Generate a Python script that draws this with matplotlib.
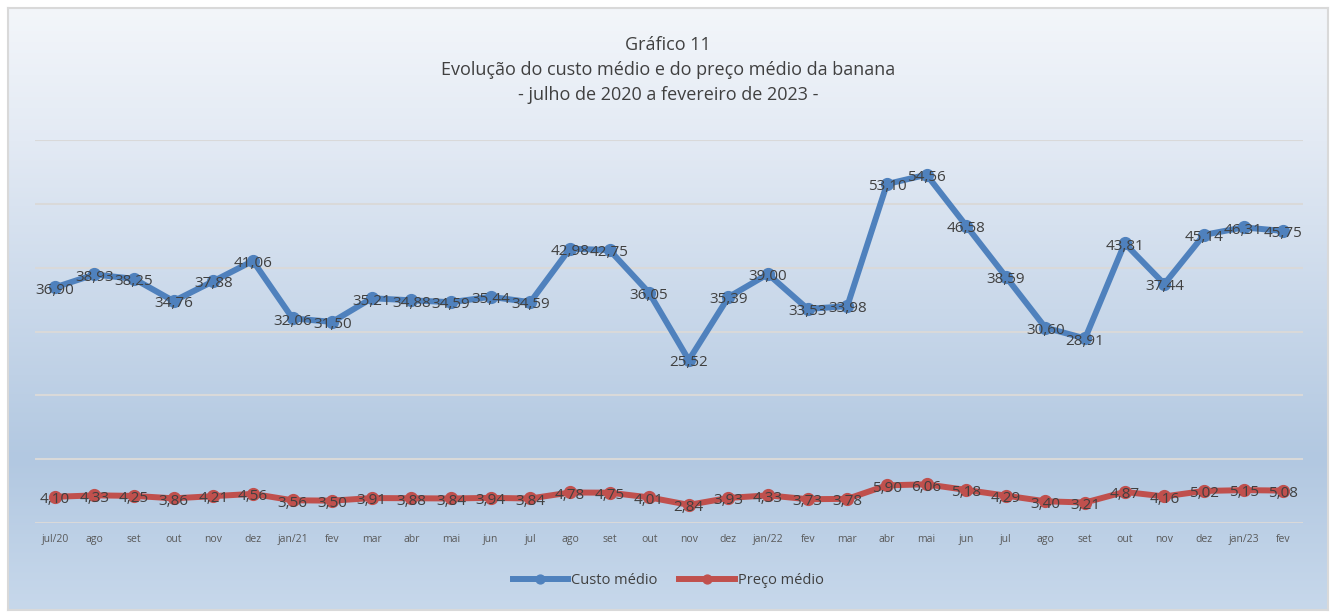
import numpy as np
import matplotlib
matplotlib.use("Agg")
import matplotlib.pyplot as plt
from matplotlib.colors import LinearSegmentedColormap

plt.rcParams['font.family'] = ['Open Sans', 'DejaVu Sans']

# dados
meses = ["jul/20", "ago", "set", "out", "nov", "dez", "jan/21", "fev", "mar", "abr",
         "mai", "jun", "jul", "ago", "set", "out", "nov", "dez", "jan/22", "fev",
         "mar", "abr", "mai", "jun", "jul", "ago", "set", "out", "nov", "dez",
         "jan/23", "fev"]
custo_medio = [36.90, 38.93, 38.25, 34.76, 37.88, 41.06, 32.06, 31.50, 35.21, 34.88,
               34.59, 35.44, 34.59, 42.98, 42.75, 36.05, 25.52, 35.39, 39.00, 33.53,
               33.98, 53.10, 54.56, 46.58, 38.59, 30.60, 28.91, 43.81, 37.44, 45.14,
               46.31, 45.75]
preco_medio = [4.10, 4.33, 4.25, 3.86, 4.21, 4.56, 3.56, 3.50, 3.91, 3.88,
               3.84, 3.94, 3.84, 4.78, 4.75, 4.01, 2.84, 3.93, 4.33, 3.73,
               3.78, 5.90, 6.06, 5.18, 4.29, 3.40, 3.21, 4.87, 4.16, 5.02,
               5.15, 5.08]

W, H = 1336, 613
fig = plt.figure(figsize=(W / 100, H / 100), dpi=100)
fig.patch.set_facecolor("white")

# fundo em degradê
bg = fig.add_axes([8 / W, 3 / H, 1320 / W, 602 / H], zorder=0)
cmap = LinearSegmentedColormap.from_list(
    "bg", [(0.0, "#f3f6fa"), (0.22, "#e3eaf4"), (0.75, "#b2c8e1"), (1.0, "#c7d8eb")])
grad = np.linspace(0, 1, 256).reshape(-1, 1)
bg.imshow(grad, aspect="auto", cmap=cmap, extent=[0, 1, 0, 1], origin="upper")
bg.set_xticks([])
bg.set_yticks([])
for s in bg.spines.values():
    s.set_color("#d9d9d9")
    s.set_linewidth(1.5)

ax = fig.add_axes([35 / W, 1 - 523 / H, (1303 - 35) / W, (523 - 140) / H], zorder=1)
ax.patch.set_alpha(0)

x = np.arange(len(meses))
azul = "#4f81bd"
vermelho = "#c0504d"

ax.plot(x, custo_medio, color=azul, lw=4.3, marker="o", ms=8.5, label="Custo médio",
        solid_joinstyle="round", zorder=3)
ax.plot(x, preco_medio, color=vermelho, lw=4.3, marker="o", ms=8.5, label="Preço médio",
        solid_joinstyle="round", zorder=3)

for xi, v in zip(x, custo_medio):
    ax.annotate(f"{v:.2f}".replace(".", ","), (xi, v), xytext=(0, -2),
                textcoords="offset points", ha="center", va="center",
                fontsize=11, color="#404040", zorder=4)
for xi, v in zip(x, preco_medio):
    ax.annotate(f"{v:.2f}".replace(".", ","), (xi, v), xytext=(0, -2),
                textcoords="offset points", ha="center", va="center",
                fontsize=11, color="#404040", zorder=4)

ax.set_xlim(-0.5, len(meses) - 0.5)
ax.set_ylim(0, 60)
ax.set_yticks(np.arange(0, 61, 10))
ax.yaxis.grid(True, color="#d9d9d9", lw=1.5)
ax.set_axisbelow(True)
ax.tick_params(axis="y", left=False, labelleft=False)
ax.set_xticks(x)
ax.set_xticklabels(meses, fontsize=7.5, color="#595959")
ax.tick_params(axis="x", length=0, pad=8)
for s in ax.spines.values():
    s.set_visible(False)

fig.text(0.5, 1 - 45 / H, "Gráfico 11", ha="center", va="center", fontsize=13, color="#404040")
fig.text(0.5, 1 - 70 / H, "Evolução do custo médio e do preço médio da banana",
         ha="center", va="center", fontsize=13, color="#404040")
fig.text(0.5, 1 - 95 / H, "- julho de 2020 a fevereiro de 2023 -",
         ha="center", va="center", fontsize=13, color="#404040")

leg = fig.legend(loc="center", bbox_to_anchor=(0.5, 1 - 581 / H), ncol=2, frameon=False,
                 fontsize=10.5, handlelength=3.8, columnspacing=1.5, handletextpad=0.2,
                 markerscale=0.75)
for t in leg.get_texts():
    t.set_color("#404040")

fig.savefig("out.png", dpi=100)
